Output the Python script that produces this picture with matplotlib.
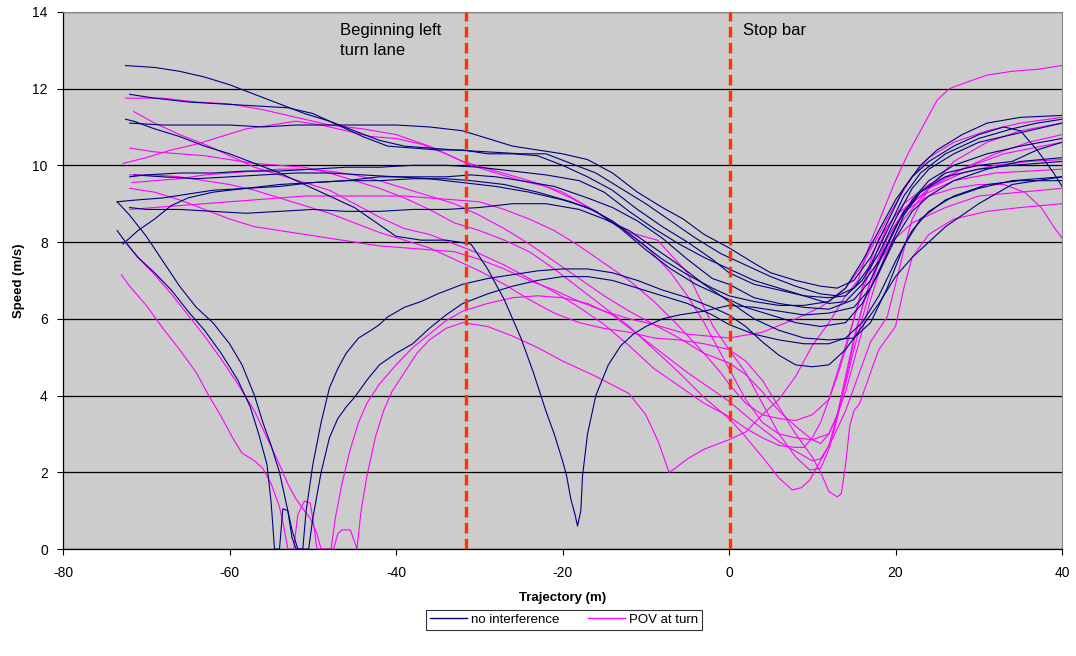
import matplotlib
matplotlib.use('Agg')
import matplotlib.pyplot as plt
from matplotlib.lines import Line2D

plt.rcParams['font.family'] = ['Liberation Sans', 'DejaVu Sans']
plt.rcParams['axes.unicode_minus'] = False

# ---- data: trajectory (m), speed (m/s) ----
# no interference runs
b1 = [(-72.5,12.6),(-69,12.55),(-66,12.45),(-63,12.3),(-60,12.1),(-57,11.85),(-54,11.6),(-51,11.35),(-48,11.15),(-45,10.9),(-42,10.65),(-39,10.5),(-36,10.45),(-33,10.4),(-29,10.35),(-25,10.3),(-22,10.3),(-19,10.05),(-16,9.8),(-13,9.4),(-10,9.0),(-7,8.55),(-4,8.1),(-1,7.7),(2,7.4),(5,7.1),(8,6.85),(11,6.65),(13,6.6),(15,6.8),(17,7.4),(19,8.3),(21,9.2),(23,9.8),(26,10.3),(30,10.7),(34,10.95),(37,11.1),(40,11.2)]
b2 = [(-72,11.85),(-69,11.75),(-65,11.65),(-61,11.6),(-57,11.55),(-53,11.5),(-50,11.35),(-47,11.05),(-44,10.75),(-41,10.5),(-38,10.45),(-35,10.4),(-32,10.4),(-29,10.3),(-26,10.3),(-23,10.25),(-20,10.0),(-17,9.7),(-14,9.35),(-11,8.85),(-8,8.4),(-5,8.0),(-2,7.55),(0,7.2),(3,6.9),(6,6.75),(9,6.6),(12,6.55),(14,6.6),(16,7.0),(18,7.7),(20,8.6),(22,9.4),(24,9.9),(27,10.3),(30,10.6),(34,10.8),(37,10.95),(40,11.1)]
b3 = [(-72.5,11.2),(-71.5,11.15),(-69,10.95),(-66,10.75),(-63,10.5),(-60,10.3),(-57,10.05),(-54,9.8),(-51,9.5),(-48,9.2),(-45,8.9),(-42,8.45),(-40,8.15),(-37,8.05),(-34,8.05),(-31,7.95),(-29,7.3),(-27,6.5),(-25,5.5),(-23.5,4.6),(-22,3.6),(-21,3.0),(-20,2.3),(-19.5,1.9),(-19,1.3),(-18.5,0.9),(-18.2,0.6),(-17.8,1.0),(-17.6,1.9),(-17,3.0),(-16,4.0),(-14.5,4.8),(-13,5.3),(-11.5,5.6),(-10,5.8),(-8,6.0),(-6,6.1),(-3,6.2),(0,6.35),(3,6.3),(6,6.2),(9,6.1),(12,6.15),(15,6.3),(17,6.8),(19,7.7),(21,8.7),(23,9.3),(26,9.8),(30,10.0),(34,10.1),(37,10.4),(40,10.6)]
b4 = [(-72,9.7),(-70,9.75),(-66,9.8),(-62,9.8),(-58,9.85),(-54,9.85),(-50,9.9),(-46,9.95),(-42,9.95),(-38,10.0),(-34,10.0),(-30,9.95),(-26,9.85),(-22,9.75),(-18,9.6),(-15,9.3),(-12,8.8),(-9,8.35),(-6,7.95),(-3,7.6),(0,7.3),(3,7.0),(6,6.8),(9,6.6),(12,6.4),(14,6.45),(16,6.9),(18,7.5),(20,8.4),(22,9.1),(24,9.6),(27,10.0),(31,10.3),(35,10.5),(40,10.7)]
b5 = [(-73.5,9.05),(-71,9.1),(-68,9.15),(-65,9.25),(-62,9.35),(-58,9.4),(-54,9.5),(-50,9.55),(-46,9.6),(-42,9.7),(-38,9.7),(-34,9.7),(-31,9.75),(-28,9.7),(-25,9.6),(-21,9.45),(-17,9.15),(-14,8.9),(-11,8.55),(-8,8.1),(-5,7.55),(-2,7.05),(0,6.9),(3,6.55),(6,6.4),(9,6.3),(12,6.25),(15,6.5),(17,7.0),(19,7.9),(21,8.8),(23,9.3),(26,9.7),(30,9.9),(34,10.0),(40,10.1)]
b6 = [(-72,8.9),(-70,8.85),(-66,8.85),(-62,8.8),(-58,8.75),(-54,8.8),(-50,8.85),(-46,8.8),(-42,8.8),(-38,8.85),(-34,8.85),(-30,8.9),(-26,9.0),(-22,9.0),(-18,8.85),(-15,8.6),(-12,8.3),(-9,7.85),(-6,7.4),(-3,6.9),(0,6.45),(3,6.0),(6,5.7),(9,5.5),(12,5.45),(15,5.5),(17,5.9),(19,6.8),(21,7.9),(23,8.6),(26,9.1),(30,9.4),(34,9.6),(40,9.7)]
b7 = [(-73.5,9.05),(-72,8.7),(-70,8.15),(-68,7.5),(-66,6.85),(-64,6.3),(-62,5.9),(-60,5.35),(-58.5,4.8),(-57,4.0),(-56,3.3),(-55,2.7),(-54,2.0),(-53.3,1.3),(-52.5,0.5),(-51.8,0.0),(-51.2,0.0),(-50.8,1.0),(-50,2.2),(-49,3.3),(-48,4.2),(-47,4.7),(-46,5.1),(-44.5,5.5),(-43,5.7),(-42,5.85),(-41,6.05),(-39,6.3),(-37,6.45),(-35,6.65),(-32,6.9),(-29,7.05),(-26,7.15),(-23,7.25),(-20,7.3),(-17,7.3),(-14,7.2),(-11,7.0),(-8,6.75),(-5,6.55),(-2,6.3),(0,6.1),(2,5.8),(4,5.4),(6,5.05),(8,4.8),(10,4.75),(12,4.8),(14,5.2),(16,5.8),(18,6.4),(20,7.1),(22,7.6),(24,8.0),(26,8.4),(30,9.0),(34,9.5),(37,9.6),(40,9.7)]
b8 = [(-73.5,8.3),(-72.5,8.0),(-71,7.6),(-69,7.2),(-67,6.75),(-65,6.2),(-63,5.7),(-61,5.1),(-59,4.4),(-57.5,3.7),(-56.5,3.0),(-55.5,2.2),(-55,1.2),(-54.6,0.0),(-54.0,0.0),(-53.6,1.05),(-53,1.0),(-52.5,0.3),(-52,0.0),(-50.5,0.0),(-50,0.8),(-49,2.0),(-48,2.9),(-47,3.4),(-46,3.7),(-45,3.95),(-43.5,4.4),(-42,4.8),(-40,5.1),(-38,5.35),(-36,5.75),(-34,6.1),(-32,6.4),(-29,6.65),(-26,6.85),(-23,7.0),(-20,7.1),(-17,7.1),(-14,7.0),(-11,6.8),(-8,6.6),(-5,6.4),(-2,6.1),(0,5.85),(3,5.6),(6,5.45),(9,5.35),(12,5.35),(14,5.5),(16,5.9),(18,6.6),(20,7.5),(22,8.3),(24,8.8),(27,9.2),(31,9.5),(35,9.6),(40,9.6)]
b9 = [(-72.8,7.95),(-71,8.3),(-69,8.6),(-67,8.95),(-65,9.15),(-62,9.3),(-58,9.4),(-54,9.45),(-50,9.55),(-46,9.6),(-42,9.6),(-38,9.65),(-34,9.65),(-31,9.6),(-27,9.5),(-23,9.3),(-19,9.05),(-16,8.8),(-13,8.35),(-10,7.8),(-7,7.3),(-4,6.9),(-1,6.6),(2,6.3),(5,6.1),(8,5.9),(11,5.8),(14,5.9),(16,6.4),(18,7.2),(20,8.1),(22,8.8),(24,9.2),(27,9.6),(31,9.9),(35,10.1),(40,10.2)]
b10 = [(-71.5,9.75),(-68,9.7),(-64,9.65),(-60,9.7),(-56,9.75),(-52,9.8),(-48,9.8),(-44,9.75),(-40,9.7),(-36,9.65),(-32,9.55),(-28,9.45),(-24,9.3),(-20,9.1),(-17,8.9),(-14,8.55),(-11,8.05),(-8,7.55),(-5,7.15),(-2,6.8),(0,6.6),(3,6.45),(6,6.35),(9,6.35),(12,6.45),(14,6.8),(16,7.5),(18,8.3),(20,9.1),(22,9.7),(24,10.1),(27,10.5),(30,10.8),(33,11.0),(35,10.9),(37,10.4),(39,9.8),(40,9.45)]
b11 = [(-72,11.1),(-68,11.05),(-64,11.05),(-60,11.05),(-56,11.0),(-52,11.05),(-48,11.05),(-44,11.05),(-40,11.05),(-36,11.0),(-32,10.9),(-29,10.7),(-26,10.5),(-23,10.4),(-20,10.3),(-17,10.15),(-14,9.8),(-11,9.3),(-8,8.9),(-5.5,8.6),(-3,8.2),(0,7.85),(3,7.45),(5,7.2),(8,7.0),(11,6.85),(13,6.8),(15,7.0),(17,7.6),(19,8.5),(21,9.4),(23,10.0),(25,10.4),(28,10.8),(31,11.1),(35,11.25),(40,11.3)]

# POV at turn runs
p1 = [(-73,7.15),(-72,6.85),(-70,6.35),(-68,5.75),(-66,5.2),(-64,4.6),(-62.5,4.0),(-61,3.45),(-59.5,2.85),(-58.5,2.5),(-57,2.3),(-56,2.1),(-55,1.7),(-54,1.1),(-53.5,0.6),(-53,0.0),(-52.3,0.0),(-51.8,0.9),(-51,1.25),(-50.3,1.2),(-49.8,0.5),(-49.5,0.0),(-47.5,0.0),(-47,0.4),(-46.5,0.5),(-45.5,0.5),(-45,0.2),(-44.7,0.0),(-44.2,1.0),(-43.5,1.9),(-42.5,2.9),(-41.5,3.6),(-40.5,4.1),(-39,4.6),(-37.5,5.1),(-36,5.45),(-34,5.75),(-32,5.9),(-29,5.8),(-26,5.55),(-23,5.25),(-20,4.9),(-16,4.5),(-12,4.05),(-10,3.5),(-8.5,2.8),(-7.2,2.0),(-6.5,2.1),(-5,2.35),(-3,2.6),(0,2.85),(2,3.05),(4,3.5),(6,3.9),(8,4.5),(10,5.3),(12,5.9),(14,6.6),(15.5,7.0),(17,8.0),(18.5,8.8),(20,9.6),(21.5,10.3),(23,10.9),(25,11.7),(26.5,12.0),(29,12.2),(31,12.35),(34,12.45),(37,12.5),(40,12.6)]
p2 = [(-72.5,8.0),(-71,7.6),(-69,7.15),(-67,6.65),(-65,6.1),(-63,5.55),(-61,4.95),(-59,4.3),(-57,3.6),(-55.5,2.9),(-54,2.2),(-53,1.7),(-52,1.3),(-51,1.0),(-50.3,0.8),(-49.5,0.4),(-49,0.0),(-47.8,0.0),(-47.3,0.8),(-46.5,1.7),(-45.5,2.6),(-44.5,3.3),(-43.5,3.8),(-42,4.3),(-40,4.8),(-38,5.25),(-36,5.6),(-34,5.95),(-32,6.2),(-29,6.4),(-26,6.55),(-23,6.6),(-20,6.55),(-17,6.4),(-14,6.1),(-11,5.6),(-8,5.1),(-5,4.6),(-2,4.15),(0,3.85),(3,3.3),(6,2.8),(8,2.55),(10,2.3),(11,2.35),(12,2.7),(13,3.5),(14,4.5),(15,5.5),(16,6.3),(17,7.0),(18,7.5),(20,8.1),(22,8.5),(26,8.9),(30,9.2),(35,9.3),(40,9.4)]
p3 = [(-72.5,11.75),(-68,11.75),(-64,11.65),(-60,11.6),(-56,11.45),(-52,11.25),(-48,11.05),(-44,10.95),(-40,10.8),(-36,10.5),(-32,10.1),(-28,9.85),(-24,9.6),(-20,9.3),(-16,8.8),(-12,8.25),(-8.6,8.05),(-5,7.2),(-1.9,5.8),(0,5.2),(2,4.6),(4,3.8),(6,3.0),(8,2.4),(9.7,2.06),(11,2.1),(12,2.6),(13,3.4),(14,4.4),(15,5.4),(16,6.3),(17,7.0),(18,7.6),(19,8.1),(21,8.8),(24,9.4),(28,9.8),(32,10.0),(36,10.1),(40,10.15)]
p4 = [(-71.5,11.4),(-69,11.1),(-66,10.8),(-63,10.55),(-60,10.25),(-57,9.95),(-54,9.75),(-51,9.55),(-48,9.35),(-45,9.0),(-42,8.65),(-39,8.35),(-36,8.2),(-33,7.95),(-30,7.7),(-27,7.4),(-24,7.05),(-21,6.7),(-18,6.3),(-15,5.85),(-12,5.3),(-9,4.7),(-6,4.25),(-3,3.8),(0,3.45),(2,3.15),(4,2.9),(6,2.7),(8,2.65),(9,2.65),(10,2.9),(11,3.3),(12,3.9),(13,4.6),(14,5.3),(15,6.0),(16,6.7),(17,7.3),(18,7.9),(19,8.4),(21,9.0),(24,9.5),(28,9.9),(32,10.3),(36,10.6),(40,10.8)]
p5 = [(-72,10.45),(-69,10.35),(-66,10.3),(-63,10.25),(-60,10.15),(-57,10.05),(-54,10.0),(-51,9.95),(-48,9.8),(-45,9.6),(-42,9.4),(-39,9.15),(-36,8.85),(-33,8.5),(-30,8.3),(-27,8.05),(-24,7.75),(-21,7.3),(-18,6.8),(-15,6.3),(-12,5.8),(-9,5.2),(-6,4.6),(-3,3.95),(0,3.4),(1.7,3.0),(4.6,2.24),(6,1.85),(7.6,1.54),(8.7,1.6),(9.7,1.8),(11,2.3),(12.5,2.9),(14,3.6),(15,4.2),(16,4.8),(17,5.4),(19,6.05),(20,6.9),(21,7.8),(22,8.6),(24,9.4),(27,10.1),(31,10.6),(35,10.9),(40,11.1)]
p6 = [(-72.8,10.05),(-70,10.2),(-67,10.4),(-64,10.55),(-61,10.75),(-58,10.95),(-55,11.05),(-52,11.15),(-49,11.05),(-46,10.9),(-43,10.75),(-40,10.7),(-37,10.55),(-34,10.3),(-31,10.0),(-28,9.8),(-25,9.6),(-22,9.45),(-19,9.15),(-16,8.8),(-13,8.4),(-10,7.9),(-7,7.2),(-5,6.6),(-3,5.9),(-1,5.1),(0,4.7),(2,3.9),(4,3.3),(6,3.0),(8,2.9),(10,2.85),(12,3.0),(13,3.5),(14,4.3),(15,5.2),(16,6.0),(17,6.8),(18,7.5),(19,8.1),(21,8.8),(24,9.2),(27,9.4),(30,9.5),(33,9.5),(35.5,9.3),(37.5,8.9),(39,8.4),(40,8.1)]
p7 = [(-71.7,9.55),(-69,9.6),(-66,9.65),(-63,9.75),(-60,9.8),(-57,9.85),(-54,9.9),(-51,9.9),(-48,9.85),(-45,9.75),(-42,9.6),(-39,9.4),(-36,9.2),(-33,9.0),(-30,8.7),(-27,8.35),(-24,7.95),(-21,7.5),(-18,7.05),(-15,6.6),(-12,6.2),(-9,5.85),(-6,5.5),(-3,5.1),(0,4.85),(2,4.55),(4,4.1),(6,3.6),(8,3.2),(10,2.85),(11,2.75),(12,3.0),(13,3.5),(14,4.1),(15,4.9),(16,5.7),(17,6.5),(18,7.2),(19,7.8),(21,8.6),(24,9.4),(28,9.9),(33,10.3),(40,10.6)]
p8 = [(-72,8.85),(-69,8.9),(-66,8.95),(-63,9.0),(-60,9.05),(-57,9.1),(-54,9.15),(-51,9.2),(-48,9.2),(-45,9.2),(-42,9.2),(-39,9.2),(-36,9.15),(-33,9.1),(-30,9.05),(-27,8.85),(-24,8.6),(-21,8.3),(-18,7.9),(-15,7.45),(-12,7.0),(-9,6.45),(-6,5.8),(-3,5.1),(-1,4.6),(0,4.3),(2,3.8),(4,3.5),(6,3.4),(8,3.35),(10,3.5),(12,3.9),(13,4.5),(14,5.2),(15,6.0),(16,6.8),(17,7.5),(18,8.1),(20,8.7),(23,9.2),(27,9.6),(32,9.8),(36,9.85),(40,9.9)]
p9 = [(-72,9.4),(-69,9.3),(-66,9.1),(-63,8.85),(-60,8.6),(-57,8.4),(-54,8.3),(-51,8.2),(-48,8.1),(-45,8.0),(-42,7.9),(-39,7.85),(-36,7.8),(-33,7.75),(-30,7.55),(-27,7.3),(-24,7.0),(-21,6.75),(-18,6.45),(-15,6.2),(-12,6.0),(-9,5.85),(-5,5.6),(0,5.5),(4,5.65),(8,6.0),(11,6.3),(14,6.8),(16,7.4),(18,8.2),(20,9.0),(22,9.7),(24,10.2),(27,10.6),(31,10.9),(35,11.1),(40,11.25)]
p10 = [(-72,9.75),(-69,9.75),(-66,9.7),(-63,9.6),(-60,9.5),(-57,9.35),(-54,9.15),(-51,8.95),(-48,8.75),(-45,8.5),(-42,8.25),(-39,8.05),(-36,7.85),(-33,7.55),(-30,7.25),(-27,6.9),(-24,6.5),(-21,6.15),(-18,5.9),(-15,5.75),(-12,5.65),(-9,5.5),(-6,5.45),(-3,5.35),(0,5.2),(2,4.9),(4,4.4),(6,3.7),(8,3.0),(10,2.4),(11,2.0),(12,1.5),(13,1.36),(13.5,1.45),(14,2.2),(14.5,3.2),(15,3.6),(15.7,3.8),(17,4.6),(18,5.2),(20,5.8),(21,6.8),(22,7.6),(24,8.2),(27,8.6),(31,8.8),(35,8.9),(40,9.0)]

no_interference = [b1, b2, b3, b4, b5, b6, b7, b8, b9, b10, b11]
pov_at_turn = [p1, p2, p3, p4, p5, p6, p7, p8, p9, p10]

markers_x = [-31.6, 0.1]
marker_labels = ['Beginning left\nturn lane', 'Stop bar']

series_labels = ['no interference', 'POV at turn']
series_colors = ['#000080', '#FF00FF']

fig = plt.figure(figsize=(10.76, 6.56), dpi=100)
ax = fig.add_axes([0.0586, 0.163, 0.9284, 0.819])
ax.set_facecolor('#CCCCCC')

for run in no_interference:
    xs, ys = zip(*run)
    ax.plot(xs, ys, color=series_colors[0], lw=0.8, zorder=3)
for run in pov_at_turn:
    xs, ys = zip(*run)
    ax.plot(xs, ys, color=series_colors[1], lw=0.8, zorder=2)

for xv in markers_x:
    ax.axvline(xv, color='#FF3300', lw=2.4, dashes=(3.2, 1.6), zorder=4)

ax.text(-46.7, 13.7, marker_labels[0], fontsize=12, va='top', ha='left', linespacing=1.4)
ax.text(1.7, 13.7, marker_labels[1], fontsize=12, va='top', ha='left')

ax.set_xlim(-80, 40)
ax.set_ylim(0, 14)
ax.set_xticks(range(-80, 41, 20))
ax.set_yticks(range(0, 15, 2))
ax.yaxis.grid(True, color='black', lw=0.9)
ax.set_axisbelow(True)
ax.tick_params(labelsize=10, length=4, color='black')
ax.tick_params(axis='x', pad=8)
ax.tick_params(axis='y', pad=7)
for s in ['top', 'right']:
    ax.spines[s].set_color('#888888')
    ax.spines[s].set_linewidth(0.8)
for s in ['left', 'bottom']:
    ax.spines[s].set_linewidth(0.9)

ax.set_xlabel('Trajectory (m)', fontsize=9.5, fontweight='bold', labelpad=9)
ax.set_ylabel('Speed (m/s)', fontsize=9.5, fontweight='bold', labelpad=5)

handles = [Line2D([], [], color=c, lw=1) for c in series_colors]
leg = fig.legend(handles, series_labels, loc='center', bbox_to_anchor=(0.524, 0.0555),
                 ncol=2, fontsize=9.5, frameon=True, fancybox=False, edgecolor='black',
                 handlelength=2.8, handletextpad=0.3, columnspacing=2.2,
                 borderpad=0.3)
leg.get_frame().set_linewidth(0.8)

fig.savefig('out.png', dpi=100)
